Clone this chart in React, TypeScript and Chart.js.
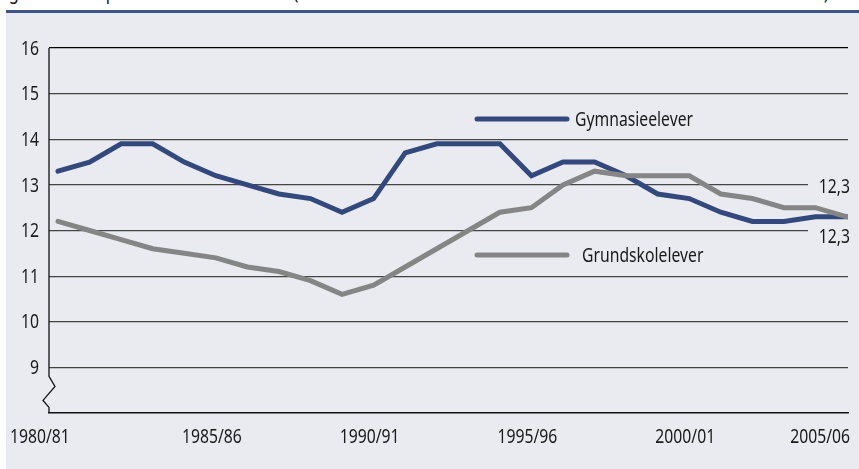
import React, { useEffect, useRef } from "react";
import { Chart, registerables } from "chart.js";

Chart.register(...registerables);

const years = [
  "1980/81", "1981/82", "1982/83", "1983/84", "1984/85", "1985/86", "1986/87",
  "1987/88", "1988/89", "1989/90", "1990/91", "1991/92", "1992/93", "1993/94",
  "1994/95", "1995/96", "1996/97", "1997/98", "1998/99", "1999/00", "2000/01",
  "2001/02", "2002/03", "2003/04", "2004/05", "2005/06",
];

const gymnasieelever = [
  13.3, 13.5, 13.9, 13.9, 13.5, 13.2, 13.0, 12.8, 12.7, 12.4, 12.7, 13.7, 13.9,
  13.9, 13.9, 13.2, 13.5, 13.5, 13.2, 12.8, 12.7, 12.4, 12.2, 12.2, 12.3, 12.3,
];

const grundskolelever = [
  12.2, 12.0, 11.8, 11.6, 11.5, 11.4, 11.2, 11.1, 10.9, 10.6, 10.8, 11.2, 11.6,
  12.0, 12.4, 12.5, 13.0, 13.3, 13.2, 13.2, 13.2, 12.8, 12.7, 12.5, 12.5, 12.3,
];

const xTickLabels = ["1980/81", "1985/86", "1990/91", "1995/96", "2000/01", "2005/06"];
const seriesNames = ["Gymnasieelever", "Grundskolelever"];
const endLabels = ["12,3", "12,3"];
const yMin = 8;
const yMax = 16;
const titleText = "Fig. 3.1  Elever  pr. lærer  i alt  1980–2006 (antal elever i forhold til antal lærere i alt hele landet for alle skolerne)";

const FONT = '"Noto Sans", "Open Sans", sans-serif';
const BG = "#eaebf0";
const BLUE = "#33497d";
const GRAY = "#858585";
const TEXT = "#1a1a1a";
const LEGEND_TEXT_WIDTH = 118;

function drawNarrow(ctx: any, text: string, x: number, y: number, align: string, sx: number) {
  const w = ctx.measureText(text).width * sx;
  let left = x;
  if (align === "center") left = x - w / 2;
  else if (align === "right") left = x - w;
  ctx.save();
  ctx.translate(left, y);
  ctx.scale(sx, 1);
  ctx.textAlign = "left";
  ctx.fillText(text, 0, 0);
  ctx.restore();
}

const overlayPlugin = {
  id: "overlay",
  beforeDatasetsDraw(chart: any) {
    const { ctx, chartArea, scales } = chart;
    const y = scales.y;
    ctx.save();
    ctx.fillStyle = BG;
    const cutX = chartArea.right - 40;
    [12, 13].forEach((v) => {
      const py = y.getPixelForValue(v);
      ctx.fillRect(cutX, py - 2, chartArea.right - cutX + 4, 4);
    });
    ctx.strokeStyle = "#111";
    ctx.lineWidth = 1.3;
    const ax = chartArea.left;
    const y9 = y.getPixelForValue(9);
    ctx.beginPath();
    ctx.moveTo(ax, chartArea.top);
    ctx.lineTo(ax, y9 + 9);
    ctx.lineTo(ax + 6, y9 + 19);
    ctx.lineTo(ax - 6, y9 + 33);
    ctx.lineTo(ax, y9 + 40);
    ctx.lineTo(ax, chartArea.bottom);
    ctx.stroke();
    ctx.restore();
  },
  afterDraw(chart: any) {
    const { ctx, chartArea, scales } = chart;
    const x = scales.x;
    const y = scales.y;
    ctx.save();
    ctx.font = `20px ${FONT}`;
    ctx.fillStyle = TEXT;
    const sx = LEGEND_TEXT_WIDTH / ctx.measureText(seriesNames[0]).width;

    // y tick labels
    ctx.textBaseline = "middle";
    y.ticks.forEach((t: any) => {
      if (t.value === yMin) return;
      drawNarrow(ctx, String(t.value), chartArea.left - 10, y.getPixelForValue(t.value) + 1, "right", sx);
    });

    // x labels
    ctx.textBaseline = "alphabetic";
    const baseY = chartArea.bottom + 30;
    xTickLabels.forEach((lab, k) => {
      const idx = years.indexOf(lab);
      const px = x.getPixelForValue(idx);
      if (k === 0) drawNarrow(ctx, lab, chartArea.left - 39, baseY, "left", sx);
      else if (k === xTickLabels.length - 1) drawNarrow(ctx, lab, px + 3, baseY, "right", sx);
      else drawNarrow(ctx, lab, px - 4, baseY, "center", sx);
    });

    // end labels
    const last = years.length - 1;
    const lx = x.getPixelForValue(last) + 3;
    const ly = y.getPixelForValue(grundskolelever[last]);
    drawNarrow(ctx, endLabels[0], lx, ly - 24, "right", sx);
    drawNarrow(ctx, endLabels[1], lx, ly + 26, "right", sx);

    // legend
    const legX0 = chartArea.left + 428;
    const legX1 = chartArea.left + 518;
    const legs = [
      { name: seriesNames[0], color: BLUE, dy: 71, gap: 8 },
      { name: seriesNames[1], color: GRAY, dy: 207, gap: 15 },
    ];
    legs.forEach((l) => {
      const ly2 = chartArea.top + l.dy;
      ctx.strokeStyle = l.color;
      ctx.lineWidth = 5;
      ctx.lineCap = "round";
      ctx.beginPath();
      ctx.moveTo(legX0, ly2);
      ctx.lineTo(legX1, ly2);
      ctx.stroke();
      ctx.textBaseline = "middle";
      ctx.fillStyle = TEXT;
      drawNarrow(ctx, l.name, legX1 + l.gap, ly2 + 1, "left", sx);
    });
    ctx.restore();
  },
};

export default function App() {
  const ref = useRef<HTMLCanvasElement | null>(null);

  useEffect(() => {
    if (!ref.current) return;
    const chart = new Chart(ref.current, {
      type: "line",
      data: {
        datasets: [
          {
            label: seriesNames[1],
            data: grundskolelever.map((v, i) => ({ x: i, y: v })),
            borderColor: GRAY,
            borderWidth: 5,
            pointRadius: 0,
            borderCapStyle: "round",
            tension: 0,
          },
          {
            label: seriesNames[0],
            data: gymnasieelever.map((v, i) => ({ x: i, y: v })),
            borderColor: BLUE,
            borderWidth: 5,
            pointRadius: 0,
            borderCapStyle: "round",
            tension: 0,
          },
        ],
      },
      options: {
        responsive: false,
        animation: false,
        devicePixelRatio: 1,
        layout: { padding: { top: 35, right: 11, left: 0, bottom: 0 } },
        plugins: { legend: { display: false }, tooltip: { enabled: false } },
        scales: {
          x: {
            type: "linear",
            min: -0.285,
            max: 25.03,
            ticks: { display: false },
            grid: { display: false },
            border: { display: true, color: "#111", width: 1.5 },
            afterFit: (s: any) => {
              s.height = 56;
            },
          },
          y: {
            min: yMin,
            max: yMax,
            ticks: {
              display: false,
              stepSize: 1,
            },
            grid: {
              drawTicks: false,
              color: (c: any) =>
                c.tick && c.tick.value === yMax
                  ? "#000"
                  : c.tick && c.tick.value === yMin
                  ? "rgba(0,0,0,0)"
                  : "#444",
              lineWidth: 1.2,
            },
            border: { display: false },
            afterFit: (s: any) => {
              s.width = 43;
            },
          },
        },
      } as any,
      plugins: [overlayPlugin],
    });
    return () => chart.destroy();
  }, []);

  return (
    <div
      style={{
        position: "fixed",
        left: 0,
        top: 0,
        width: 859,
        height: 469,
        background: "#fff",
        overflow: "hidden",
      }}
    >
      <div
        style={{
          position: "absolute",
          left: -4,
          top: -18,
          fontFamily: FONT,
          fontSize: 20,
          lineHeight: "20px",
          whiteSpace: "nowrap",
          color: "#111",
          transform: "scaleX(0.82)",
          transformOrigin: "left top",
        }}
      >
        {titleText}
      </div>
      <div
        style={{
          position: "absolute",
          left: 6,
          top: 10,
          width: 853,
          height: 3,
          background: "#3d5389",
        }}
      />
      <div
        style={{
          position: "absolute",
          left: 6,
          top: 13,
          width: 853,
          height: 456,
          background: BG,
        }}
      >
        <canvas
          ref={ref}
          width={853}
          height={456}
          style={{ display: "block", width: 853, height: 456 }}
        />
      </div>
    </div>
  );
}
